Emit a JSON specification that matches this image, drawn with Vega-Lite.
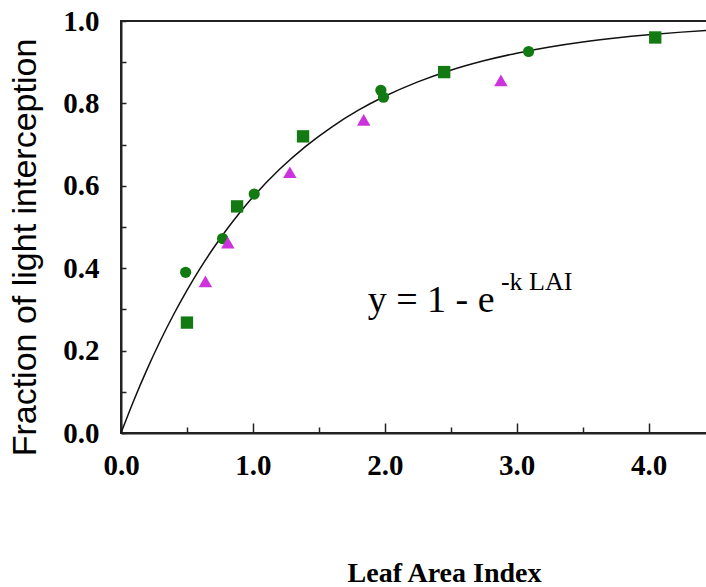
{
  "$schema": "https://vega.github.io/schema/vega-lite/v6.json",
  "autosize": "none",
  "width": 587,
  "height": 412,
  "padding": {"left": 121, "top": 21, "right": 0, "bottom": 154},
  "background": "white",
  "config": {
    "view": {"stroke": "#222", "strokeWidth": 2},
    "axis": {"grid": false, "domainColor": "#222", "domainWidth": 2, "tickColor": "#222", "tickWidth": 1.5, "labelColor": "black", "titleColor": "black"}
  },
  "datasets": {
    "points": [
      {"lai": 0.49, "fi": 0.39, "series": "A"},
      {"lai": 0.50, "fi": 0.268, "series": "B"},
      {"lai": 0.64, "fi": 0.368, "series": "C"},
      {"lai": 0.77, "fi": 0.472, "series": "A"},
      {"lai": 0.81, "fi": 0.462, "series": "C"},
      {"lai": 0.88, "fi": 0.55, "series": "B"},
      {"lai": 1.01, "fi": 0.58, "series": "A"},
      {"lai": 1.28, "fi": 0.633, "series": "C"},
      {"lai": 1.38, "fi": 0.72, "series": "B"},
      {"lai": 1.84, "fi": 0.76, "series": "C"},
      {"lai": 1.97, "fi": 0.832, "series": "A"},
      {"lai": 1.99, "fi": 0.815, "series": "A"},
      {"lai": 2.45, "fi": 0.876, "series": "B"},
      {"lai": 2.88, "fi": 0.856, "series": "C"},
      {"lai": 3.09, "fi": 0.926, "series": "A"},
      {"lai": 4.05, "fi": 0.960, "series": "B"}
    ],
    "curve": [
      {"lai": 0.0, "fi": 0.0},
      {"lai": 0.1, "fi": 0.0815},
      {"lai": 0.2, "fi": 0.1563},
      {"lai": 0.3, "fi": 0.2251},
      {"lai": 0.4, "fi": 0.2882},
      {"lai": 0.5, "fi": 0.3462},
      {"lai": 0.6, "fi": 0.3995},
      {"lai": 0.7, "fi": 0.4484},
      {"lai": 0.8, "fi": 0.4934},
      {"lai": 0.9, "fi": 0.5347},
      {"lai": 1.0, "fi": 0.5726},
      {"lai": 1.2, "fi": 0.6394},
      {"lai": 1.4, "fi": 0.6958},
      {"lai": 1.6, "fi": 0.7433},
      {"lai": 1.8, "fi": 0.7835},
      {"lai": 2.0, "fi": 0.8173},
      {"lai": 2.25, "fi": 0.8523},
      {"lai": 2.5, "fi": 0.8806},
      {"lai": 2.75, "fi": 0.9034},
      {"lai": 3.0, "fi": 0.9219},
      {"lai": 3.25, "fi": 0.9369},
      {"lai": 3.5, "fi": 0.949},
      {"lai": 3.75, "fi": 0.9587},
      {"lai": 4.0, "fi": 0.9666},
      {"lai": 4.25, "fi": 0.973},
      {"lai": 4.45, "fi": 0.9772}
    ],
    "equation": [
      {"lai": 1.87, "fi": 0.294, "part": "main", "label": "y = 1 - e"},
      {"lai": 2.88, "fi": 0.348, "part": "sup", "label": "-k LAI"}
    ]
  },
  "layer": [
    {
      "data": {"name": "curve"},
      "mark": {"type": "line", "color": "#111", "strokeWidth": 1.5, "interpolate": "monotone"},
      "encoding": {
        "x": {
          "field": "lai", "type": "quantitative",
          "scale": {"domain": [0, 4.45], "nice": false, "zero": true},
          "axis": {
            "title": "Leaf Area Index",
            "values": [0, 0.5, 1, 1.5, 2, 2.5, 3, 3.5, 4],
            "labelExpr": "datum.value % 1 === 0 ? format(datum.value, '.1f') : ''",
            "labelFont": "Liberation Serif", "labelFontWeight": "bold", "labelFontSize": 29,
            "labelPadding": 28, "labelFlush": false,
            "tickSize": {"condition": {"test": "datum.value % 1 === 0", "value": -10}, "value": -6},
            "titleFont": "Liberation Serif", "titleFontWeight": "bold", "titleFontSize": 28,
            "titleX": 323, "titleY": 148, "titleBaseline": "alphabetic", "titleAnchor": "middle"
          }
        },
        "y": {
          "field": "fi", "type": "quantitative",
          "scale": {"domain": [0, 1], "nice": false},
          "axis": {
            "title": "Fraction of light interception",
            "values": [0, 0.1, 0.2, 0.3, 0.4, 0.5, 0.6, 0.7, 0.8, 0.9, 1.0],
            "labelExpr": "round(datum.value * 10) % 2 === 0 ? format(datum.value, '.1f') : ''",
            "labelFont": "Liberation Serif", "labelFontWeight": "bold", "labelFontSize": 29,
            "labelPadding": 27, "labelFlush": false,
            "tickSize": -5,
            "titleFont": "Liberation Sans", "titleFontWeight": "normal", "titleFontSize": 34,
            "titleX": -86, "titleY": 226, "titleBaseline": "alphabetic", "titleAngle": -90
          }
        }
      }
    },
    {
      "data": {"name": "points"},
      "mark": {"type": "point", "filled": true, "opacity": 1},
      "encoding": {
        "x": {"field": "lai", "type": "quantitative"},
        "y": {"field": "fi", "type": "quantitative"},
        "shape": {"field": "series", "type": "nominal", "legend": null,
          "scale": {"domain": ["A", "B", "C"], "range": ["circle", "square", "triangle-up"]}},
        "color": {"field": "series", "type": "nominal", "legend": null,
          "scale": {"domain": ["A", "B", "C"], "range": ["#137a13", "#137a13", "#cc33dd"]}},
        "size": {"field": "series", "type": "nominal", "legend": null,
          "scale": {"domain": ["A", "B", "C"], "range": [125, 180, 115]}}
      }
    },
    {
      "data": {"name": "equation"},
      "transform": [{"filter": "datum.part === 'main'"}],
      "mark": {"type": "text", "align": "left", "baseline": "alphabetic", "font": "Liberation Serif", "fontSize": 38, "color": "black"},
      "encoding": {
        "x": {"field": "lai", "type": "quantitative"},
        "y": {"field": "fi", "type": "quantitative"},
        "text": {"field": "label"}
      }
    },
    {
      "data": {"name": "equation"},
      "transform": [{"filter": "datum.part === 'sup'"}],
      "mark": {"type": "text", "align": "left", "baseline": "alphabetic", "font": "Liberation Serif", "fontSize": 26, "color": "black"},
      "encoding": {
        "x": {"field": "lai", "type": "quantitative"},
        "y": {"field": "fi", "type": "quantitative"},
        "text": {"field": "label"}
      }
    }
  ]
}
